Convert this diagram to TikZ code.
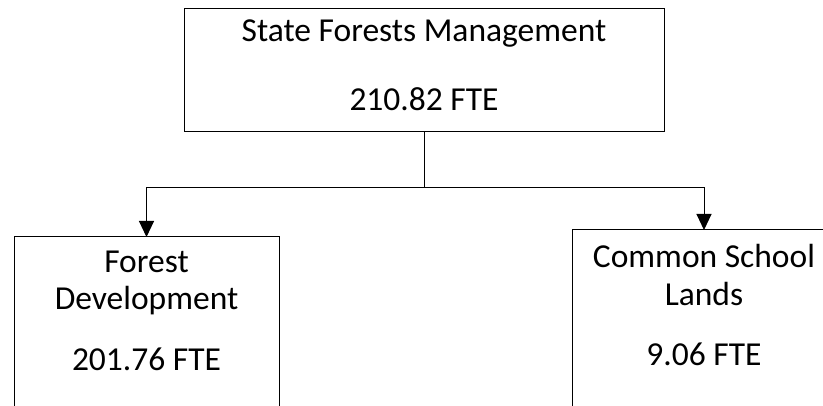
\documentclass[tikz,border=0pt]{standalone}
\usepackage{fontspec}
\setmainfont{Carlito}
\usetikzlibrary{arrows.meta}
\begin{document}
\begin{tikzpicture}[x=1pt,y=-1pt,
  box/.style={draw=black,line width=1pt,inner sep=0pt,outer sep=0pt,rectangle},
  lbl/.style={anchor=base,inner sep=0pt,font=\fontsize{33.5}{40}\selectfont},
  conn/.style={line width=1pt,draw=black},
  arr/.style={conn,-{Triangle[width=15pt,length=16pt]}}]
\useasboundingbox (0,0) rectangle (823,406);
\clip (0,0) rectangle (823,406);
\node[box,minimum width=480pt,minimum height=123pt] (top) at (424,70.5) {};
\node[box,minimum width=265pt,minimum height=213pt] (left) at (146.5,343.5) {};
\node[box,minimum width=264pt,minimum height=220pt] (right) at (704,340) {};
\coordinate (j) at (424,188);
\draw[conn] (top.south) -- (j);
\draw[arr] (j) -| (left.north);
\draw[arr] (j) -| (right.north);
\node[lbl] (t1) at (424,42) {State Forests Management};
\node[lbl] (t2) at (424,111) {210.82 FTE};
\node[lbl] (l1) at (146.5,273) {Forest};
\node[lbl] (l2) at (146.5,310) {Development};
\node[lbl] (l3) at (146.5,371) {201.76 FTE};
\node[lbl] (r1) at (704,268) {Common School};
\node[lbl] (r2) at (704,306) {Lands};
\node[lbl] (r3) at (704,366) {9.06 FTE};
\end{tikzpicture}
\end{document}
